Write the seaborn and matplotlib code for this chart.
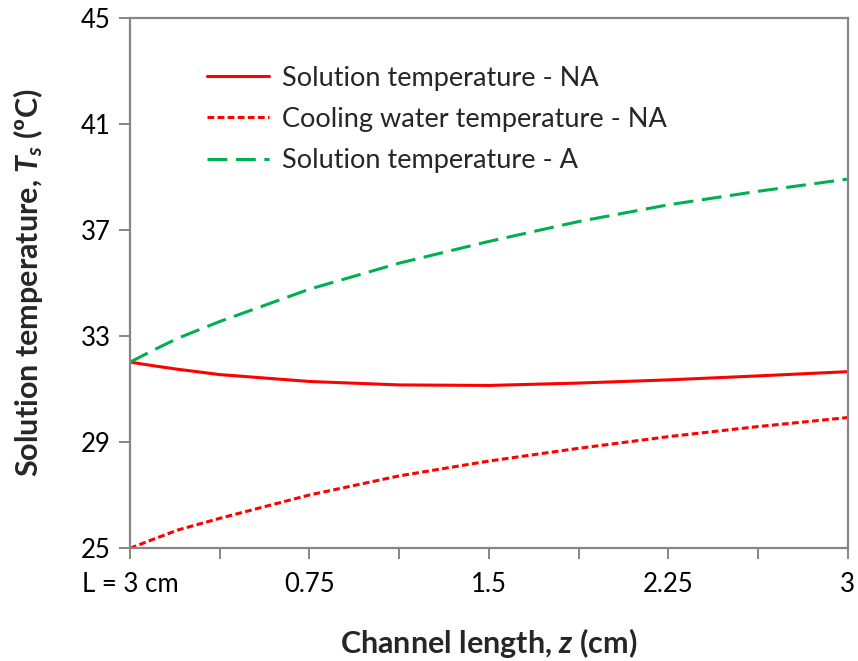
import matplotlib
matplotlib.use("Agg")
import matplotlib.pyplot as plt
import seaborn as sns
import pandas as pd

# Position along the channel (cm)
z = [0.0, 0.1, 0.2, 0.375, 0.75, 1.125, 1.5, 1.875, 2.25, 2.625, 3.0]

# Temperatures (ºC)
solution_na = [32.02, 31.88, 31.75, 31.55, 31.29, 31.16, 31.14, 31.23, 31.35, 31.50, 31.66]
cooling_na = [25.00, 25.35, 25.69, 26.13, 27.01, 27.73, 28.29, 28.77, 29.21, 29.59, 29.93]
solution_a = [32.02, 32.48, 32.92, 33.55, 34.77, 35.75, 36.57, 37.32, 37.95, 38.46, 38.92]

series_names = [
    "Solution temperature - NA",
    "Cooling water temperature - NA",
    "Solution temperature - A",
]

x_ticks = [0, 0.375, 0.75, 1.125, 1.5, 1.875, 2.25, 2.625, 3.0]
x_tick_labels = ["L = 3 cm", "", "0.75", "", "1.5", "", "2.25", "", "3"]
y_ticks = [25, 29, 33, 37, 41, 45]

df = pd.DataFrame({
    "z": z * 3,
    "T": solution_na + cooling_na + solution_a,
    "series": [series_names[0]] * len(z) + [series_names[1]] * len(z) + [series_names[2]] * len(z),
})

sns.set_theme(style="white")
plt.rcParams["font.family"] = ["Lato", "DejaVu Sans"]
plt.rcParams["mathtext.fontset"] = "custom"
plt.rcParams["mathtext.rm"] = "Lato:bold"
plt.rcParams["mathtext.it"] = "Lato:italic:bold"
plt.rcParams["mathtext.bf"] = "Lato:bold"

fig = plt.figure(figsize=(8.58, 6.61), dpi=100)
ax = fig.add_axes([0.1515, 0.1705, 0.8365, 0.8025])

palette = {series_names[0]: "#FF0000", series_names[1]: "#FF0000", series_names[2]: "#00B050"}
dashes = {series_names[0]: "", series_names[1]: (2.2, 1.1), series_names[2]: (6.5, 2.8)}

sns.lineplot(data=df, x="z", y="T", hue="series", style="series",
             palette=palette, dashes=dashes, linewidth=2.2, ax=ax,
             hue_order=series_names, style_order=series_names)

ax.set_xlim(0, 3)
ax.set_ylim(25, 45)
ax.set_xticks(x_ticks)
ax.set_xticklabels(x_tick_labels)
ax.set_yticks(y_ticks)

gray = "#868686"
for side in ["left", "bottom", "top", "right"]:
    ax.spines[side].set_visible(True)
    ax.spines[side].set_color(gray)
    ax.spines[side].set_linewidth(1.6)

ax.tick_params(axis="both", which="major", direction="out", length=8, width=1.4,
               color=gray, labelsize=18.5, labelcolor="#000000", pad=6)
ax.tick_params(axis="x", pad=9)
ax.tick_params(left=True, bottom=True)

ax.set_xlabel(r"Channel length, $z$ (cm)", fontsize=22, fontweight="bold", labelpad=21)
ax.set_ylabel(r"Solution temperature, $T_s$ (ºC)", fontsize=22, fontweight="bold")
ax.yaxis.set_label_coords(-0.118, 0.5)

leg = ax.legend(loc="upper left", bbox_to_anchor=(0.0734, 0.956), frameon=False,
                fontsize=19.5, handlelength=2.3, handletextpad=0.45, labelspacing=0.6)
for line in leg.get_lines():
    line.set_linewidth(2.2)

fig.savefig("out.png", dpi=100)
